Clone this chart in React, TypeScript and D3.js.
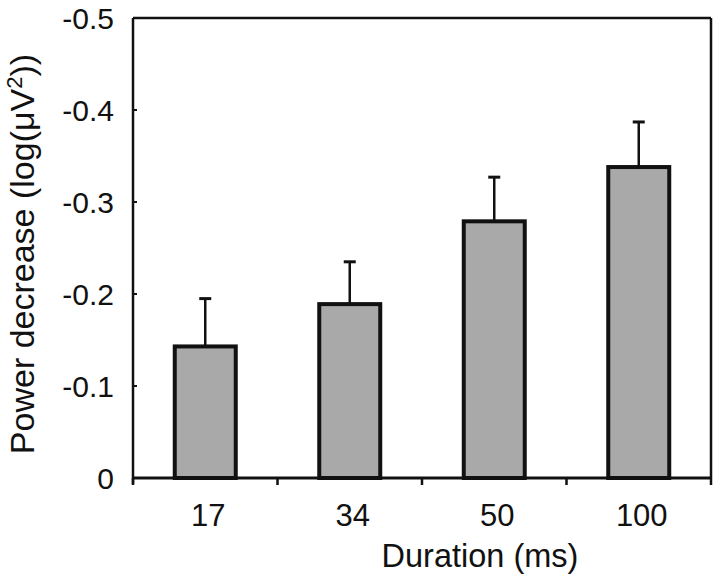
import React from "react";
import * as d3 from "d3";

const categories = ["17", "34", "50", "100"];
const means = [-0.143, -0.189, -0.279, -0.338];
const errors = [0.052, 0.046, 0.048, 0.049];
const yTicks = [0, -0.1, -0.2, -0.3, -0.4, -0.5];
const yTickLabels = ["0", "-0.1", "-0.2", "-0.3", "-0.4", "-0.5"];

const W = 720;
const H = 580;
const left = 133;
const right = 711;
const top = 18;
const bottom = 478;

export default function App() {
  const x = d3.scaleBand<string>().domain(categories).range([left, right]).paddingInner(0).paddingOuter(0);
  const y = d3.scaleLinear().domain([0, -0.5]).range([bottom, top]);
  const barW = 61;
  const font = "'Liberation Sans', Arial, Helvetica, sans-serif";
  const boundaries = [...categories.map((c) => x(c) as number), right];

  return (
    <svg
      width={W}
      height={H}
      style={{ position: "absolute", left: 0, top: 0, background: "#fff" }}
      fontFamily={font}
    >
      <rect x={0} y={0} width={W} height={H} fill="#fff" />
      {/* bars */}
      {categories.map((c, i) => {
        const cx = (x(c) as number) + x.bandwidth() / 2;
        const yTop = y(means[i]);
        const yErr = y(means[i] - errors[i]);
        return (
          <g key={c}>
            <line x1={cx} x2={cx} y1={yTop} y2={yErr} stroke="#111" strokeWidth={2.5} />
            <line x1={cx - 6} x2={cx + 6} y1={yErr} y2={yErr} stroke="#111" strokeWidth={3} />
            <rect
              x={cx - barW / 2}
              y={yTop}
              width={barW}
              height={y(0) - yTop}
              fill="#a9a9a9"
              stroke="#111"
              strokeWidth={4}
            />
          </g>
        );
      })}
      {/* frame */}
      <line x1={left} x2={right} y1={top} y2={top} stroke="#111" strokeWidth={2.5} />
      <line x1={right} x2={right} y1={top} y2={bottom} stroke="#111" strokeWidth={2.5} />
      <line x1={left} x2={left} y1={top} y2={bottom + 6} stroke="#111" strokeWidth={2.5} />
      <line x1={left} x2={right} y1={bottom} y2={bottom} stroke="#111" strokeWidth={3} />
      {/* y ticks */}
      {yTicks.map((t, i) => (
        <g key={i}>
          <line x1={left} x2={left + 4} y1={y(t)} y2={y(t)} stroke="#111" strokeWidth={2} />
          <text x={114} y={y(t) + 10.5} textAnchor="end" fontSize={30} fill="#111">
            {yTickLabels[i]}
          </text>
        </g>
      ))}
      {/* x ticks */}
      {boundaries.map((b, i) => (
        <line key={i} x1={b} x2={b} y1={bottom} y2={bottom + 7} stroke="#111" strokeWidth={2.5} />
      ))}
      {categories.map((c) => (
        <text
          key={c}
          x={(x(c) as number) + x.bandwidth() / 2 + 3}
          y={526}
          textAnchor="middle"
          fontSize={31}
          fill="#111"
        >
          {c}
        </text>
      ))}
      {/* axis titles */}
      <text x={480} y={567} textAnchor="middle" fontSize={32.5} fill="#111">
        Duration (ms)
      </text>
      <text
        transform={`translate(34, ${(top + bottom) / 2 + 6}) rotate(-90)`}
        textAnchor="middle"
        fontSize={34}
        fill="#111"
      >
        <tspan>Power decrease (log(μV</tspan>
        <tspan fontSize={22} dy={-12}>2</tspan>
        <tspan dy={12}>))</tspan>
      </text>
    </svg>
  );
}
